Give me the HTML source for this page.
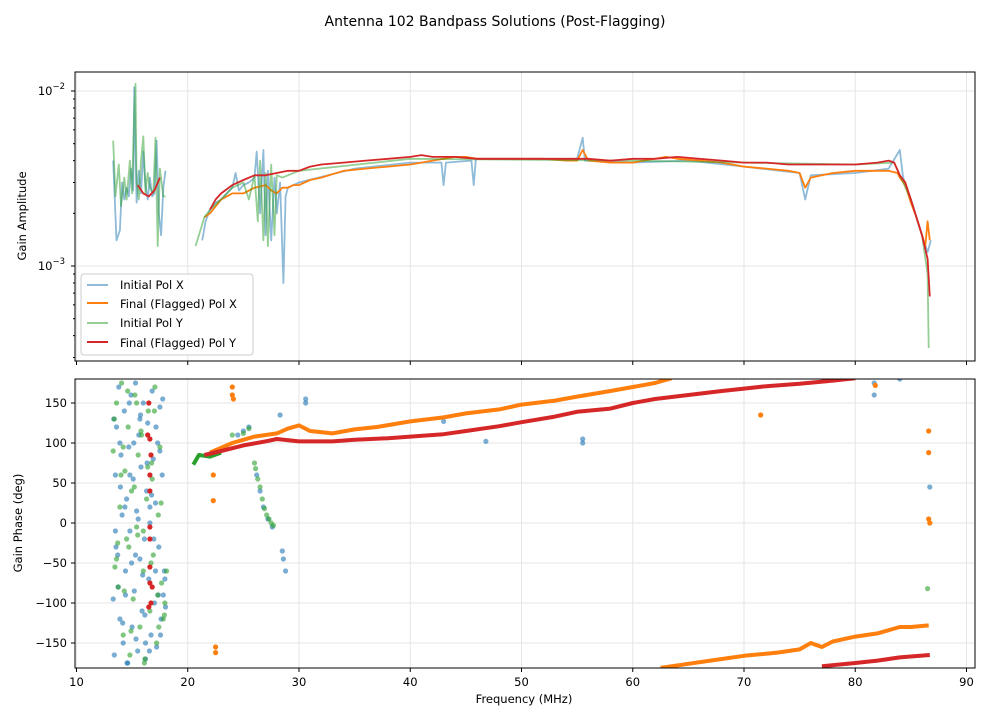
<!DOCTYPE html>
<html><head><meta charset="utf-8"><style>
body{margin:0;background:#fff;font-family:"DejaVu Sans","Liberation Sans",sans-serif}
svg text{font-family:"DejaVu Sans","Liberation Sans",sans-serif;fill:#000}
</style></head><body>
<svg id="fig" width="990" height="720" xmlns="http://www.w3.org/2000/svg">
<defs>
<clipPath id="clipTop"><rect x="75" y="72" width="900" height="289"/></clipPath>
<clipPath id="clipBot"><rect x="75" y="379" width="900" height="289"/></clipPath>
</defs>
<rect width="990" height="720" fill="#fff"/>
<text x="495" y="26" font-size="14" text-anchor="middle">Antenna 102 Bandpass Solutions (Post-Flagging)</text>
<g id="gridTop"></g>
<g id="gridBot"></g>
<g id="topPlot" clip-path="url(#clipTop)"></g>
<g id="botPlot" clip-path="url(#clipBot)"></g>
<rect x="75" y="72" width="900" height="289" fill="none" stroke="#000" stroke-width="1"/>
<rect x="75" y="379" width="900" height="289" fill="none" stroke="#000" stroke-width="1"/>
<g id="ticks"></g>
<text x="0" y="0" font-size="11.5" text-anchor="middle" transform="translate(26,216) rotate(-90)">Gain Amplitude</text>
<text x="0" y="0" font-size="11.5" text-anchor="middle" transform="translate(22,523) rotate(-90)">Gain Phase (deg)</text>
<text x="524" y="703" font-size="11.5" text-anchor="middle">Frequency (MHz)</text>
<g>
<rect x="81" y="274" width="172" height="81" rx="3" fill="#fff" fill-opacity="0.85" stroke="#ccc"/>
<g><line x1="87" y1="285" x2="108" y2="285" stroke="#1f77b4" stroke-opacity="0.5" stroke-width="2"/><text x="120" y="289" font-size="11.5">Initial Pol X</text></g>
<g><line x1="87" y1="303" x2="108" y2="303" stroke="#ff7f0e" stroke-width="2"/><text x="120" y="308" font-size="11.5">Final (Flagged) Pol X</text></g>
<g><line x1="87" y1="323" x2="108" y2="323" stroke="#2ca02c" stroke-opacity="0.5" stroke-width="2"/><text x="120" y="327" font-size="11.5">Initial Pol Y</text></g>
<g><line x1="87" y1="342" x2="108" y2="342" stroke="#d62728" stroke-width="2"/><text x="120" y="347" font-size="11.5">Final (Flagged) Pol Y</text></g>
</g>
</svg>
<script>
// ---- amplitude data (units of 1e-3) ----
const blueF1=[13.3,13.6,13.9,14.1,14.3,14.5,14.7,14.9,15.1,15.2,15.4,15.6,15.8,16.0,16.2,16.4,16.6,16.8,17.0,17.2,17.4,17.6,17.8,18.0];
const blueA1=[4.0,1.4,1.6,3.0,2.4,2.8,2.5,3.6,2.7,10.5,2.3,3.5,2.6,4.5,2.9,2.4,3.2,2.5,2.6,5.2,2.0,1.5,2.8,3.5];
const blueF2=[21.3,21.6,22,22.5,23,23.5,24,24.3,24.6,25,25.5,26,26.2,26.5,26.8,27,27.2,27.5,27.8,28,28.3,28.6,28.8,29,30,35,40,42.8,43,43.2,45.5,45.7,45.9,50,55,55.5,55.7,60,65,70,75,75.5,76,80,83,84,84.3,85,86,86.5,86.8];
const blueA2=[1.4,1.8,2.1,2.3,2.4,2.6,2.8,3.4,2.7,2.9,3.0,3.2,4.5,2.0,4.6,1.5,3.5,1.4,3.2,2.0,3.0,0.8,2.5,2.8,3.0,3.6,3.9,3.9,2.9,3.9,4.0,2.9,4.1,4.1,4.1,5.4,4.0,3.9,4.0,3.7,3.4,2.4,3.3,3.4,3.6,4.6,3.2,2.4,1.5,1.2,1.4];
const greenF1=[13.3,13.5,13.8,14.0,14.3,14.5,14.8,15.0,15.2,15.3,15.4,15.6,15.8,16.0,16.2,16.4,16.6,16.9,17.1,17.3,17.5,17.8,18.0];
const greenA1=[5.2,2.5,3.8,2.2,3.2,2.4,4.0,2.6,8.0,11,3.0,2.4,4.0,5.5,2.6,3.4,2.8,2.6,5.4,1.3,3.6,2.5,2.5];
const greenF2=[20.7,21,21.5,22,23,24,25,25.5,26,26.3,26.5,26.8,27,27.2,27.5,27.8,28,28.5,29,30,40,60,70,80,83.5,85,86,86.5,86.6];
const greenA2=[1.3,1.5,1.9,2.1,2.4,2.8,3.0,2.4,3.3,1.8,4.0,1.4,3.4,1.3,3.8,1.5,3.3,3.2,3.3,3.5,4.1,4.0,3.9,3.8,3.9,2.4,1.5,0.9,0.34];
const orangeF=[21.5,22,23,24,25,26,27,27.5,28,28.5,29,29.5,30,31,32,34,36,38,40,41,42,43,44,45,46,48,50,52,54,55,55.5,56,58,60,62,63,64,66,68,70,72,74,75,75.5,76,77,78,80,82,83,83.8,84,84.5,85,85.5,86,86.3,86.5,86.7];
const orangeA=[1.9,2.0,2.4,2.6,2.6,2.8,2.9,2.7,2.6,2.8,2.8,2.9,2.9,3.1,3.2,3.5,3.6,3.7,3.8,3.9,4.0,4.1,4.2,4.2,4.1,4.1,4.1,4.1,4.0,4.0,4.6,4.0,3.9,3.9,4.1,4.2,4.1,4.0,3.9,3.7,3.6,3.5,3.4,2.8,3.2,3.3,3.4,3.5,3.5,3.5,3.4,3.2,2.9,2.3,1.9,1.5,1.3,1.8,1.4];
const redF1=[15.5,16,16.5,17,17.5];
const redA1=[2.9,2.6,2.5,2.7,3.2];
const redF2=[22,22.5,23,24,25,26,27,28,29,30,31,32,34,36,38,40,41,42,44,46,48,50,52,54,56,58,60,62,64,66,68,70,72,74,76,78,80,82,83,83.5,84,84.5,85,85.5,86,86.5,86.7];
const redA2=[2.1,2.4,2.6,2.9,3.1,3.3,3.3,3.4,3.5,3.5,3.7,3.8,3.9,4.0,4.1,4.2,4.3,4.2,4.2,4.1,4.1,4.1,4.1,4.1,4.1,4.0,4.1,4.1,4.2,4.1,4.0,3.9,3.9,3.8,3.8,3.8,3.8,3.9,4.0,3.9,3.3,3.0,2.4,1.9,1.5,1.1,0.67];
// ---- phase data (deg) ----
const orangePF1=[22,24,26,28,29,30,31,33,35,37,40,43,45,48,50,53,55,58,60,62,63.5];
const orangePP1=[88,100,108,112,118,122,115,112,117,120,127,132,137,142,148,153,158,165,170,175,181];
const orangePF2=[62.5,65,68,70,73,75,76,77,78,80,82,84,85,86.6];
const orangePP2=[-181,-176,-170,-166,-162,-158,-150,-155,-148,-142,-138,-130,-130,-128];
const redPF1=[21.5,23,25,27,28,30,33,35,38,40,43,45,48,50,53,55,58,60,62,65,68,70,72,75,78,80];
const redPP1=[85,90,97,102,105,102,102,104,106,108,111,115,121,126,133,139,143,150,155,160,165,168,171,174,178,181];
const redPF2=[77,80,82,84,86.7];
const redPP2=[-179,-175,-172,-168,-165];
const greenPF=[20.5,21,21.5,22,23];
const greenPP=[73,85,84,83,88];
const blueNoiseF=[13.3,13.4,13.5,13.6,13.7,13.8,13.9,14.0,14.1,14.2,14.3,14.4,14.5,14.6,14.7,14.8,14.9,15.0,15.1,15.2,15.3,15.4,15.5,15.6,15.7,15.8,15.9,16.0,16.1,16.2,16.3,16.4,16.5,16.6,16.7,16.8,16.9,17.0,17.1,17.2,17.3,17.4,17.5,17.6,17.7,17.8,17.9,18.0,13.35,13.55,13.75,13.95,14.15,14.35,14.55,14.75,14.95,15.15,15.35,15.55,15.75,15.95,16.15,16.35,16.55,16.75,16.95,17.15,17.35,17.55,17.75,17.95,13.5,13.9,14.4,14.8,15.3,15.7,16.2,16.6,17.1,17.5,24.5,25,25.5,28.3,28.5,28.6,28.8,30.6,30.6,43,46.8,55.5,55.5,81.7,81.7,84,86.7,26.2,26.5,26.8,27.2,27.6];
const blueNoiseP=[-95,-165,60,120,-40,170,-120,85,10,-150,140,-60,30,-175,95,-10,160,-130,55,-85,175,15,-160,110,-45,70,-110,150,-20,-170,40,125,-70,0,-140,165,80,-100,25,-155,100,-30,145,-120,60,-90,-60,-105,130,-30,-80,45,-125,20,-175,150,-50,100,-145,5,135,-65,-115,75,-160,35,-20,120,-90,-140,155,-70,-10,100,-90,60,-40,130,-150,20,-60,90,110,115,120,135,-35,-45,-60,155,150,127,102,105,100,175,160,180,45,60,40,20,5,-5];
const greenNoiseF=[13.3,13.45,13.6,13.75,13.9,14.05,14.2,14.35,14.5,14.65,14.8,14.95,15.1,15.25,15.4,15.55,15.7,15.85,16.0,16.15,16.3,16.45,16.6,16.75,16.9,17.05,17.2,17.35,17.5,17.65,17.8,17.95,18.1,13.4,13.7,14.0,14.3,14.6,14.9,15.2,15.5,15.8,16.1,16.4,16.7,17.0,17.3,17.6,17.9,13.6,14.2,14.7,15.4,16.0,16.8,17.4,24,25,25.5,26,26.1,26.3,26.5,26.7,26.9,27.1,27.3,27.5,27.7,86.5];
const greenNoiseP=[90,-55,150,-80,20,175,-140,65,-20,120,-165,40,-95,160,-5,85,-130,110,-60,-170,30,140,-110,75,-40,170,-150,10,95,-75,-120,-100,-60,130,-25,60,-85,165,-135,45,-15,115,-175,70,-50,140,-90,25,-115,-45,95,-30,150,-10,55,-130,110,112,118,75,68,55,45,30,18,10,5,0,-3,-82];
const redNoiseF=[16.4,16.5,16.6,16.6,16.6,16.6,16.6,16.6,16.6,16.7,16.8,16.5,16.7];
const redNoiseP=[110,150,105,60,40,-5,-20,-55,-75,-100,-80,-105,85];
const orangeNoiseF=[22.3,22.3,22.5,22.5,24,24,24.1,71.5,86.6,86.6,86.6,86.7,81.8];
const orangeNoiseP=[28,60,-155,-162,170,160,155,135,115,88,5,0,172];

const PX=11.125;
function xs(f){return 76.5+(f-10)*PX;}
function ya(v){return 266-175*Math.log10(v);}
function yp(p){return 523-0.8*p;}
const NS="http://www.w3.org/2000/svg";
function mk(tag,attrs,parent){const e=document.createElementNS(NS,tag);for(const k in attrs)e.setAttribute(k,attrs[k]);parent.appendChild(e);return e;}
const topG=document.getElementById('topPlot'), botG=document.getElementById('botPlot');
function line(F,V,yf,color,op,w,parent,name){
  const pts=F.map((f,i)=>xs(f).toFixed(1)+','+yf(V[i]).toFixed(1)).join(' ');
  const el=mk('polyline',{points:pts,fill:'none',stroke:color,'stroke-opacity':op,'stroke-width':w,'stroke-linejoin':'round'},parent);
  
  
}
function dots(F,P,color,op,parent,name){
  const g=mk('g',{},parent);
  
  
  F.forEach((f,i)=>{mk('circle',{cx:xs(f).toFixed(1),cy:yp(P[i]).toFixed(1),r:2.6,fill:color,'fill-opacity':op},g);});
}
const gt=document.getElementById('gridTop'), gb=document.getElementById('gridBot'), tk=document.getElementById('ticks');
for(let f=10;f<=90;f+=10){
  mk('line',{x1:xs(f),x2:xs(f),y1:72,y2:361,stroke:'#e5e5e5'},gt);
  mk('line',{x1:xs(f),x2:xs(f),y1:379,y2:668,stroke:'#e5e5e5'},gb);
  mk('line',{x1:xs(f),x2:xs(f),y1:361,y2:365,stroke:'#000'},tk);
  mk('line',{x1:xs(f),x2:xs(f),y1:668,y2:672,stroke:'#000'},tk);
  const t=mk('text',{x:xs(f),y:686,'font-size':11.5,'text-anchor':'middle'},tk);t.textContent=f;
  
  
}
[1,10].forEach(v=>{mk('line',{x1:75,x2:975,y1:ya(v),y2:ya(v),stroke:'#e5e5e5'},gt);mk('line',{x1:71,x2:75,y1:ya(v),y2:ya(v),stroke:'#000'},tk);});
[[10,'2'],[1,'3']].forEach(([v,e])=>{const t=mk('text',{x:65,y:ya(v)+4,'font-size':11.5,'text-anchor':'end'},tk);t.innerHTML='10<tspan dy="-6" font-size="8.5">−'+e+'</tspan>';
  
  });
[0.3,0.4,0.5,0.6,0.7,0.8,0.9,2,3,4,5,6,7,8,9].forEach(v=>{const y=ya(v);if(y>72&&y<361)mk('line',{x1:73,x2:75,y1:y,y2:y,stroke:'#000'},tk);});
for(let p=-150;p<=150;p+=50){
  mk('line',{x1:75,x2:975,y1:yp(p),y2:yp(p),stroke:'#e5e5e5'},gb);
  mk('line',{x1:71,x2:75,y1:yp(p),y2:yp(p),stroke:'#000'},tk);
  const t=mk('text',{x:67,y:yp(p)+4,'font-size':11.5,'text-anchor':'end'},tk);t.textContent=p<0?'−'+(-p):p;
  
  
}
line(blueF1,blueA1,ya,'#1f77b4',0.5,1.8,topG,'initial-pol-x-amp-low');
line(blueF2,blueA2,ya,'#1f77b4',0.5,1.8,topG,'initial-pol-x-amp');
line(orangeF,orangeA,ya,'#ff7f0e',1,1.8,topG,'final-pol-x-amp');
line(greenF1,greenA1,ya,'#2ca02c',0.5,1.8,topG,'initial-pol-y-amp-low');
line(greenF2,greenA2,ya,'#2ca02c',0.5,1.8,topG,'initial-pol-y-amp');
line(redF1,redA1,ya,'#d62728',1,1.8,topG,'final-pol-y-amp-low');
line(redF2,redA2,ya,'#d62728',1,1.8,topG,'final-pol-y-amp');
dots(blueNoiseF,blueNoiseP,'#1f77b4',0.6,botG,'initial-pol-x-phase-points');
dots(greenNoiseF,greenNoiseP,'#2ca02c',0.6,botG,'initial-pol-y-phase-points');
line(greenPF,greenPP,yp,'#2ca02c',1,4,botG,'initial-pol-y-phase-track');
line(orangePF1,orangePP1,yp,'#ff7f0e',1,4,botG,'final-pol-x-phase-track');
line(orangePF2,orangePP2,yp,'#ff7f0e',1,4,botG,'final-pol-x-phase-track-wrapped');
dots(orangeNoiseF,orangeNoiseP,'#ff7f0e',1,botG,'final-pol-x-phase-points');
line(redPF1,redPP1,yp,'#d62728',1,4,botG,'final-pol-y-phase-track');
line(redPF2,redPP2,yp,'#d62728',1,4,botG,'final-pol-y-phase-track-wrapped');
dots(redNoiseF,redNoiseP,'#d62728',1,botG,'final-pol-y-phase-points');
</script>
</body></html>
